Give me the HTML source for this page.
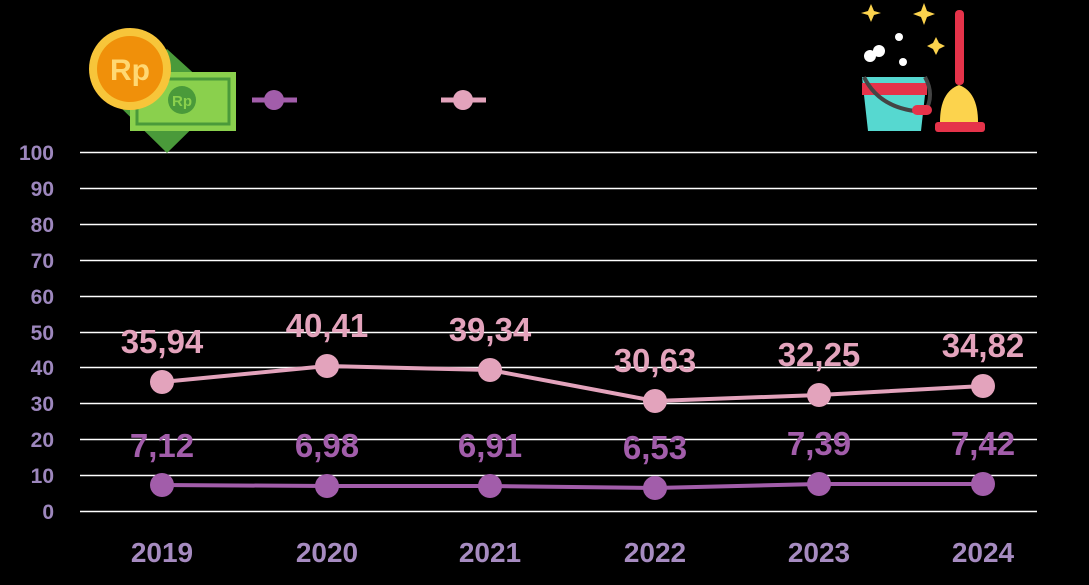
<!DOCTYPE html>
<html><head><style>body{margin:0;background:#000}svg{display:block}</style></head><body>
<svg width="1089" height="585" xmlns="http://www.w3.org/2000/svg" font-family="Liberation Sans, sans-serif">
<rect width="1089" height="585" fill="#000"/>
<g stroke="#fff" stroke-width="1.5">
<line x1="80" x2="1037" y1="152.5" y2="152.5"/><line x1="80" x2="1037" y1="188.5" y2="188.5"/><line x1="80" x2="1037" y1="224.5" y2="224.5"/><line x1="80" x2="1037" y1="260.5" y2="260.5"/><line x1="80" x2="1037" y1="296.5" y2="296.5"/><line x1="80" x2="1037" y1="332.5" y2="332.5"/><line x1="80" x2="1037" y1="367.5" y2="367.5"/><line x1="80" x2="1037" y1="403.5" y2="403.5"/><line x1="80" x2="1037" y1="439.5" y2="439.5"/><line x1="80" x2="1037" y1="475.5" y2="475.5"/><line x1="80" x2="1037" y1="511.5" y2="511.5"/>
</g>
<g fill="#9d87bd" font-size="21" font-weight="bold" text-anchor="end">
<text x="54" y="160">100</text><text x="54" y="196">90</text><text x="54" y="232">80</text><text x="54" y="268">70</text><text x="54" y="304">60</text><text x="54" y="340">50</text><text x="54" y="375">40</text><text x="54" y="411">30</text><text x="54" y="447">20</text><text x="54" y="483">10</text><text x="54" y="519">0</text>
</g>
<g fill="#a68bc0" font-size="28" font-weight="bold" text-anchor="middle">
<text x="162" y="562">2019</text><text x="327" y="562">2020</text><text x="490" y="562">2021</text><text x="655" y="562">2022</text><text x="819" y="562">2023</text><text x="983" y="562">2024</text>
</g>
<polyline points="162,382 327,366 490,370 655,401 819,395 983,386" fill="none" stroke="#e3a3bc" stroke-width="4"/>
<g fill="#e3a3bc"><circle cx="162" cy="382" r="12"/><circle cx="327" cy="366" r="12"/><circle cx="490" cy="370" r="12"/><circle cx="655" cy="401" r="12"/><circle cx="819" cy="395" r="12"/><circle cx="983" cy="386" r="12"/></g>
<polyline points="162,485 327,486 490,486 655,488 819,484 983,484" fill="none" stroke="#a25daa" stroke-width="4"/>
<g fill="#a25daa"><circle cx="162" cy="485" r="12"/><circle cx="327" cy="486" r="12"/><circle cx="490" cy="486" r="12"/><circle cx="655" cy="488" r="12"/><circle cx="819" cy="484" r="12"/><circle cx="983" cy="484" r="12"/></g>
<g fill="#e3a3bc" font-size="33" font-weight="bold" text-anchor="middle">
<text x="162" y="353">35,94</text><text x="327" y="337">40,41</text><text x="490" y="341">39,34</text><text x="655" y="372">30,63</text><text x="819" y="366">32,25</text><text x="983" y="357">34,82</text>
</g>
<g fill="#a25daa" font-size="33" font-weight="bold" text-anchor="middle">
<text x="162" y="457">7,12</text><text x="327" y="457">6,98</text><text x="490" y="457">6,91</text><text x="655" y="459">6,53</text><text x="819" y="455">7,39</text><text x="983" y="455">7,42</text>
</g>
<!-- legend -->
<line x1="252" x2="297" y1="100" y2="100" stroke="#a25daa" stroke-width="5"/><circle cx="274" cy="100" r="10" fill="#a25daa"/>
<line x1="441" x2="486" y1="100" y2="100" stroke="#e3a3bc" stroke-width="5"/><circle cx="463" cy="100" r="10" fill="#e3a3bc"/>
<!-- money icon -->
<polygon points="167,49 222,99 167,153 112,99" fill="#4a9a3a"/>
<rect x="130" y="72" width="106" height="59" fill="#8ad04d"/>
<rect x="137" y="79" width="92" height="45" fill="none" stroke="#4a9a3a" stroke-width="3"/>
<circle cx="182" cy="100" r="14" fill="#4a9a3a"/>
<text x="182" y="106" font-size="15" font-weight="bold" fill="#8ad04d" text-anchor="middle">Rp</text>
<circle cx="130" cy="69" r="41" fill="#f7c53a"/>
<circle cx="130" cy="69" r="33" fill="#f0900a"/>
<text x="130" y="80" font-size="30" font-weight="bold" fill="#ffd873" text-anchor="middle">Rp</text>
<!-- cleaning icon -->
<path d="M862,77 L927,77 L921,131 L868,131 Z" fill="#56d8d0"/>
<rect x="862" y="83" width="65" height="12" fill="#e5334a"/>
<path d="M864,77 Q880,110 925,112" fill="none" stroke="#444" stroke-width="4"/>
<path d="M925,77 Q935,95 925,112" fill="none" stroke="#444" stroke-width="4"/>
<rect x="912" y="105" width="20" height="10" rx="5" fill="#e5334a"/>
<rect x="955" y="10" width="9" height="75" rx="4" fill="#e5334a"/>
<path d="M940,122 Q940,92 959,85 Q978,92 978,122 Z" fill="#fcd34d"/>
<rect x="935" y="122" width="50" height="10" rx="3" fill="#e5334a"/>
<circle cx="870" cy="56" r="6" fill="#fff"/><circle cx="879" cy="51" r="6" fill="#fff"/><circle cx="899" cy="37" r="4" fill="#fff"/><circle cx="903" cy="62" r="4" fill="#fff"/>
<path d="M871,4 L874,11 L881,13 L874,15 L871,22 L868,15 L861,13 L868,11Z" fill="#fcd34d"/>
<path d="M924,3 L927,11 L935,14 L927,17 L924,25 L921,17 L913,14 L921,11Z" fill="#fcd34d"/>
<path d="M936,37 L939,43 L945,46 L939,49 L936,55 L933,49 L927,46 L933,43Z" fill="#fcd34d"/>
</svg>
</body></html>
